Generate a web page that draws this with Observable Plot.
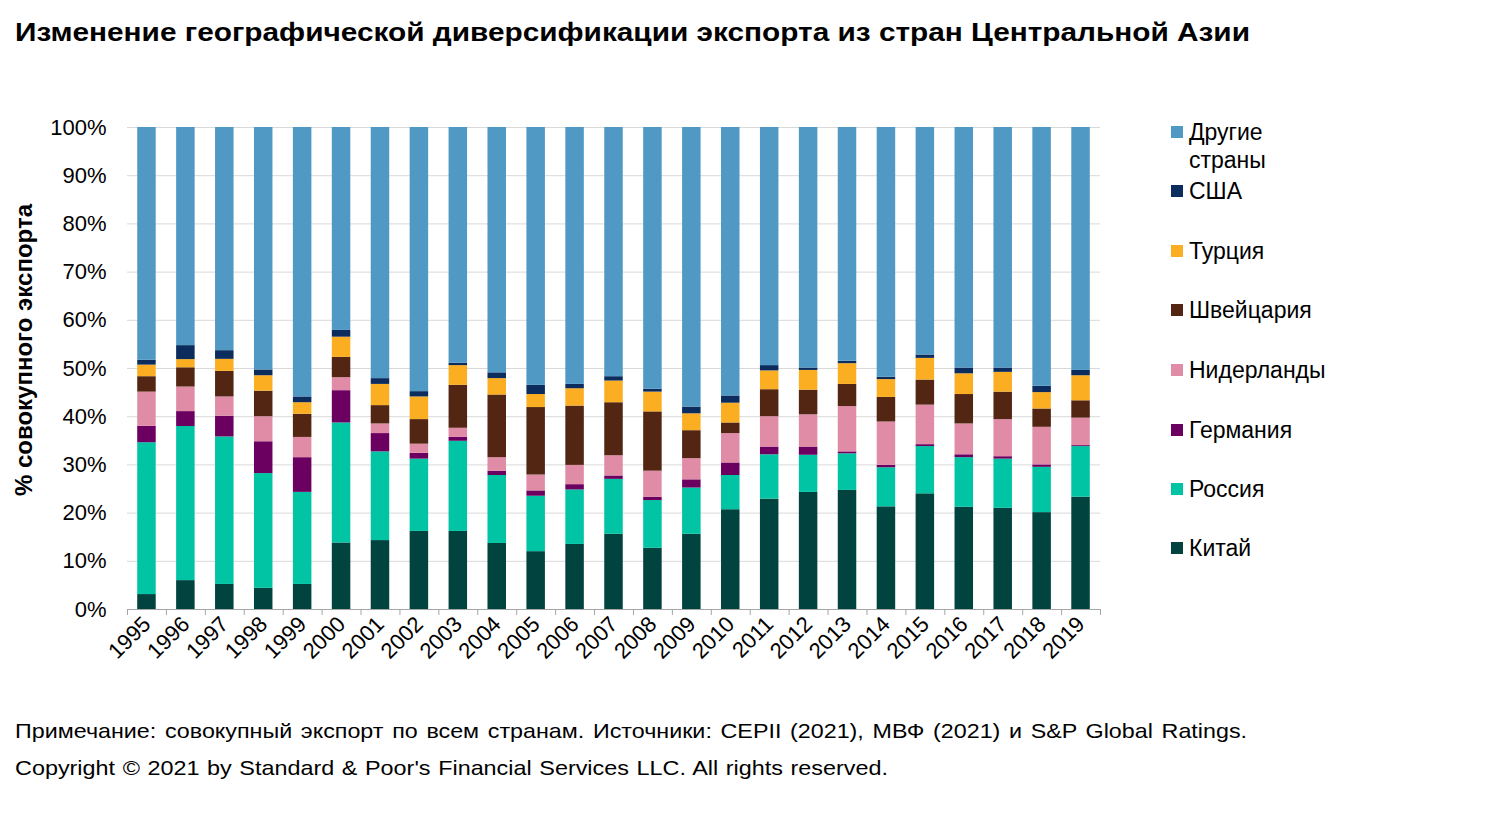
<!DOCTYPE html>
<html>
<head>
<meta charset="utf-8">
<script src="https://cdn.jsdelivr.net/npm/d3@7"></script>
<script src="https://cdn.jsdelivr.net/npm/@observablehq/plot@0.6"></script>
<style>
  html, body { margin: 0; padding: 0; background: #fff; }
  body { width: 1502px; height: 831px; position: relative; overflow: hidden; font-family: "Liberation Sans", Arial, sans-serif; color: #000; }
  #title { position: absolute; left: 15px; top: 18px; font-size: 25px; font-weight: bold; white-space: nowrap; transform-origin: 0 50%; }
  #chart { position: absolute; left: 0; top: 0; }
  #ylabel { position: absolute; left: 24px; top: 350px; transform: translate(-50%, -50%) rotate(-90deg); font-size: 24px; font-weight: bold; white-space: nowrap; }
  #legend { position: absolute; left: 1171px; top: 0; }
  .item { position: absolute; left: 0; white-space: nowrap; font-size: 23px; line-height: 28px; }
  .sw { position: absolute; left: 0; top: 8px; width: 12px; height: 12px; }
  .lt { position: absolute; left: 18px; top: 0; }
  .note { position: absolute; left: 15px; font-size: 21px; white-space: nowrap; transform-origin: 0 50%; }
</style>
</head>
<body>
<div id="title">Изменение географической диверсификации экспорта из стран Центральной Азии</div>
<div id="chart"></div>
<div id="ylabel">% совокупного экспорта</div>
<div id="legend"></div>
<div class="note" id="note1" style="top:719px; word-spacing:2px;">Примечание: совокупный экспорт по всем странам. Источники: CEPII (2021), МВФ (2021) и S&amp;P Global Ratings.</div>
<div class="note" id="note2" style="top:756px; word-spacing:1px;">Copyright © 2021 by Standard &amp; Poor's Financial Services LLC. All rights reserved.</div>
<script>
const years = [1995,1996,1997,1998,1999,2000,2001,2002,2003,2004,2005,2006,2007,2008,2009,2010,2011,2012,2013,2014,2015,2016,2017,2018,2019];

// series in stacking order (bottom to top)
const seriesNames = ["Китай","Россия","Германия","Нидерланды","Швейцария","Турция","США","Другие страны"];
const seriesColors = ["#01443f","#00c4a3","#6c0061","#e08ca7","#522613","#fbae22","#0b2c5c","#5199c5"];

const china       = [3.1,6.0,5.2,4.4,5.2,13.8,14.3,16.2,16.2,13.7,12.0,13.5,15.6,12.7,15.6,20.7,22.9,24.3,24.7,21.3,24.0,21.2,21.0,20.1,23.3];
const russia      = [31.5,32.0,30.6,23.8,19.1,24.9,18.4,15.0,18.7,14.1,11.5,11.3,11.4,9.9,9.6,7.1,9.2,7.7,7.6,8.1,9.8,10.3,10.2,9.4,10.5];
const germany     = [3.4,3.1,4.3,6.6,7.2,6.7,3.8,1.2,0.8,0.9,1.1,1.1,0.7,0.7,1.7,2.6,1.6,1.7,0.4,0.5,0.4,0.6,0.5,0.5,0.2];
const netherlands = [7.1,5.1,4.0,5.2,4.2,2.7,2.0,1.9,1.9,2.8,3.3,4.0,4.2,5.4,4.4,6.1,6.3,6.7,9.4,9.0,8.2,6.4,7.7,7.8,5.7];
const switzerland = [3.2,4.0,5.3,5.3,4.8,4.2,3.8,5.1,8.9,13.0,14.0,12.3,11.0,12.3,5.8,2.2,5.6,5.1,4.6,5.1,5.2,6.1,5.7,3.8,3.6];
const turkey      = [2.4,1.7,2.5,3.2,2.4,4.2,4.4,4.7,4.1,3.4,2.7,3.6,4.5,4.1,3.5,4.1,3.9,4.1,4.3,3.7,4.5,4.3,4.1,3.4,5.2];
const usa         = [1.0,2.9,1.8,1.2,1.2,1.4,1.2,1.1,0.5,1.2,1.9,0.9,0.9,0.6,1.4,1.5,1.1,0.5,0.5,0.5,0.7,1.2,0.9,1.3,1.1];
const others      = [48.3,45.3,46.3,50.3,55.9,42.1,52.1,54.8,48.9,50.9,53.5,53.3,51.7,54.3,58.0,55.7,49.4,49.9,48.5,51.8,47.2,49.9,49.9,53.7,50.4];

const yTicks = [0,0.1,0.2,0.3,0.4,0.5,0.6,0.7,0.8,0.9,1];

const seriesValues = [china, russia, germany, netherlands, switzerland, turkey, usa, others];
const data = [];
seriesNames.forEach((name, si) => {
  years.forEach((yr, i) => data.push({year: yr, series: name, value: seriesValues[si][i]}));
});

const boundaries = years.map(y => y - 0.5).concat([years[years.length - 1] + 0.5]);

const W = 1502, H = 700, ML = 127, MR = 402, MT = 127, MB = 91;
const step = (W - ML - MR) / years.length;
const inset = (step - 18.5) / 2;

const chart = Plot.plot({
  width: W, height: H,
  marginLeft: ML, marginRight: MR, marginTop: MT, marginBottom: MB,
  style: {fontFamily: '"Liberation Sans", Arial, sans-serif', color: "#000", background: "transparent"},
  x: {domain: [years[0] - 0.5, years[years.length - 1] + 0.5], axis: null},
  y: {domain: [0, 1], axis: null},
  color: {domain: seriesNames, range: seriesColors},
  marks: [
    Plot.gridY(yTicks.filter(t => t > 0), {stroke: "#d9d9d9", strokeOpacity: 1}),
    Plot.rectY(data, Plot.stackY({
      offset: "normalize",
      x1: d => d.year - 0.5, x2: d => d.year + 0.5,
      y: "value", fill: "series",
      insetLeft: inset, insetRight: inset
    })),
    Plot.ruleY([0], {stroke: "#a6a6a6", strokeWidth: 1.2}),
    Plot.axisX(boundaries, {anchor: "bottom", tickSize: 6, tickFormat: () => "", stroke: "#a6a6a6", label: null}),
    Plot.axisX(years, {anchor: "bottom", tickSize: 0, tickPadding: 11, tickRotate: -45, fontSize: 22, tickFormat: d => String(d), label: null}),
    Plot.axisY(yTicks, {anchor: "left", tickSize: 0, tickPadding: 21, fontSize: 22, tickFormat: d => Math.round(d * 100) + "%", label: null})
  ]
});
chart.style.fill = "#000";
document.getElementById("chart").appendChild(chart);

// legend (top to bottom: reverse of stacking order)
const legend = document.getElementById("legend");
const legendTops = [118, 177, 237, 296, 356, 416, 475, 534];
const order = seriesNames.map((n, i) => i).reverse();
order.forEach((si, k) => {
  const item = document.createElement("div");
  item.className = "item";
  item.style.top = legendTops[k] + "px";
  const sw = document.createElement("div");
  sw.className = "sw";
  sw.style.background = seriesColors[si];
  const lt = document.createElement("div");
  lt.className = "lt";
  lt.innerHTML = seriesNames[si] === "Другие страны" ? "Другие<br>страны" : seriesNames[si];
  item.appendChild(sw); item.appendChild(lt);
  legend.appendChild(item);
});

// stretch header/footer text horizontally to the reference's text widths
function fitWidth(id, target) {
  const el = document.getElementById(id);
  const w = el.getBoundingClientRect().width;
  if (w > 0) el.style.transform = "scaleX(" + (target / w) + ")";
}
fitWidth("title", 1235);
fitWidth("note1", 1232);
fitWidth("note2", 873);
</script>
</body>
</html>
